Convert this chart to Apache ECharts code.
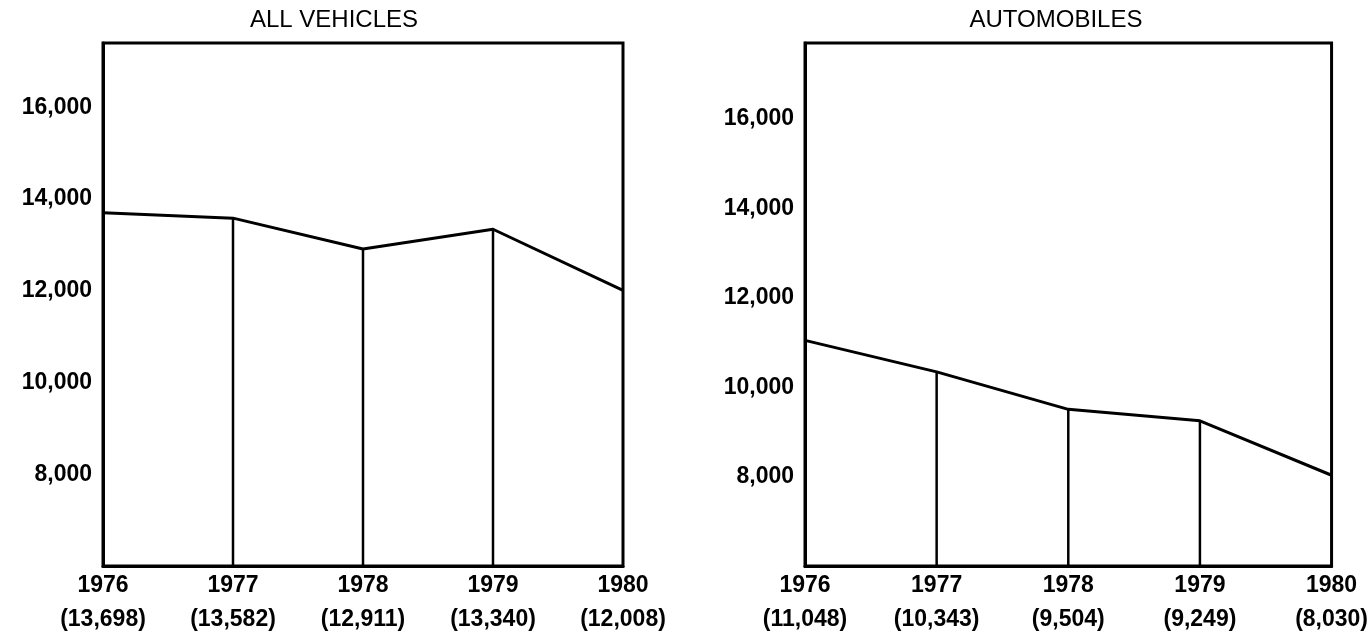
<!DOCTYPE html>
<html>
<head>
<meta charset="utf-8">
<title>Vehicles</title>
<script src="https://cdn.jsdelivr.net/npm/echarts@6/dist/echarts.min.js"></script>
<style>
  html, body { margin: 0; padding: 0; background: #ffffff; }
  #chart { width: 1371px; height: 642px; }
</style>
</head>
<body>
<div id="chart"></div>
<script>
// Years on the horizontal axis
const years = ['1976', '1977', '1978', '1979', '1980'];
// Totals per year
const allVehicles = [13698, 13582, 12911, 13340, 12008];
const automobiles = [11048, 10343, 9504, 9249, 8030];
// Panel headings
const panelTitles = ['ALL VEHICLES', 'AUTOMOBILES'];

const FONT = '"Liberation Sans", Arial, Helvetica, sans-serif';
const fmt = v => Number(v).toLocaleString('en-US');

// Vertical drop lines only at the inner years
const inner = arr => arr.map((v, i) => (i === 0 || i === arr.length - 1) ? null : v);

const grids = [
  { left: 103, top: 43, width: 520, height: 523 },
  { left: 805, top: 43, width: 527, height: 523 }
];
const titleX = [334, 1056];
const yRanges = [
  { min: 6000, max: 17400 },
  { min: 6000, max: 17700 }
];
const seriesData = [allVehicles, automobiles];

const chart = echarts.init(document.getElementById('chart'), null, { renderer: 'canvas' });

const option = {
  backgroundColor: '#ffffff',
  animation: false,
  graphic: panelTitles.map((t, i) => ({
    type: 'text',
    x: titleX[i],
    y: 20,
    style: {
      text: t,
      font: 'normal 24px ' + FONT,
      fill: '#000',
      textAlign: 'center',
      textVerticalAlign: 'middle'
    }
  })),
  grid: grids.map(g => Object.assign({
    show: true,
    borderColor: '#000',
    borderWidth: 3,
    backgroundColor: 'transparent'
  }, g)),
  xAxis: seriesData.map((data, i) => ({
    type: 'category',
    gridIndex: i,
    data: years,
    boundaryGap: false,
    axisLine: { show: true, lineStyle: { color: '#000', width: 3 } },
    axisTick: { show: false },
    splitLine: { show: false },
    axisLabel: {
      color: '#000',
      fontFamily: FONT,
      fontSize: 23,
      fontWeight: 'bold',
      lineHeight: 34,
      margin: 3,
      interval: 0,
      formatter: (val, idx) => val + '\n(' + fmt(data[idx]) + ')'
    }
  })),
  yAxis: seriesData.map((data, i) => ({
    type: 'value',
    gridIndex: i,
    min: yRanges[i].min,
    max: yRanges[i].max,
    interval: 2000,
    axisLine: { show: true, lineStyle: { color: '#000', width: 3 } },
    axisTick: { show: false },
    splitLine: { show: false },
    axisLabel: {
      color: '#000',
      fontFamily: FONT,
      fontSize: 23,
      fontWeight: 'bold',
      margin: 11,
      showMinLabel: false,
      showMaxLabel: false,
      formatter: v => fmt(v)
    }
  })),
  series: seriesData.flatMap((data, i) => ([
    {
      type: 'bar',
      xAxisIndex: i,
      yAxisIndex: i,
      data: inner(data),
      barWidth: 2.5,
      itemStyle: { color: '#000' },
      z: 1
    },
    {
      type: 'line',
      xAxisIndex: i,
      yAxisIndex: i,
      data: data,
      symbol: 'none',
      lineStyle: { color: '#000', width: 3 },
      z: 2
    }
  ]))
};

chart.setOption(option);
</script>
</body>
</html>
